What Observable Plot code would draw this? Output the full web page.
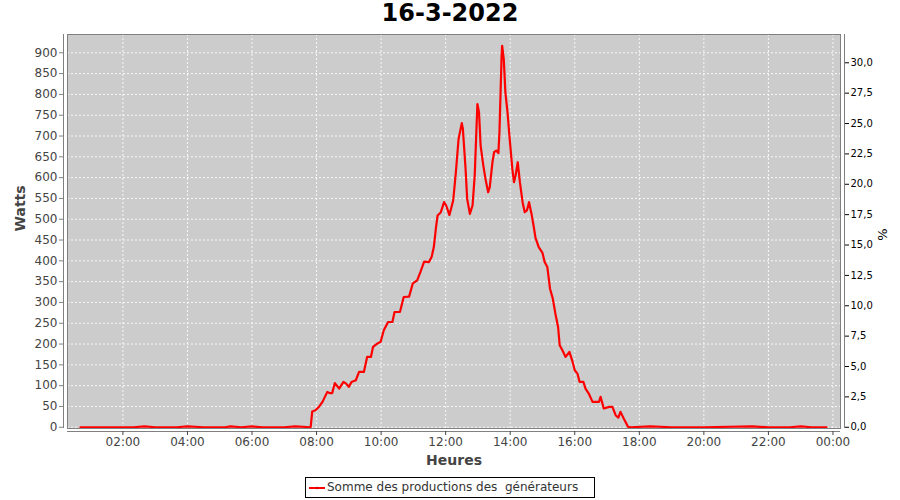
<!DOCTYPE html>
<html>
<head>
<meta charset="utf-8">
<script src="https://cdn.jsdelivr.net/npm/d3@7"></script>
<script src="https://cdn.jsdelivr.net/npm/@observablehq/plot@0.6"></script>
<style>
  body { margin: 0; background: #fff; font-family: "DejaVu Sans", sans-serif; }
  #wrap { position: relative; width: 900px; height: 500px; overflow: hidden; }
  #title { position: absolute; left: 0; top: 0; width: 900px; height: 28px; line-height: 27px; text-align: center; font-weight: bold; font-size: 24px; color: #000; }
  #chart { position: absolute; left: 0; top: 28px; }
  #legend { position: absolute; left: 305px; top: 477px; width: 288px; height: 19px; border: 1px solid #000; font-size: 12px; color: #333; white-space: pre; line-height: 19px; }
  #legend svg { position: absolute; left: 2px; top: 5px; }
  #legend span { position: absolute; left: 21px; top: 0; }
</style>
</head>
<body>
<div id="wrap">
  <div id="title"></div>
  <div id="chart"></div>
  <div id="legend"></div>
</div>
<script>
const day = "2022-03-16";
const titleText = "16-3-2022";
const seriesName = "Somme des productions des  générateurs";
const xLabel = "Heures";
const yLabel = "Watts";
const y2Label = "%";

const times = ["00:41","01:30","02:20","02:40","03:00","03:40","04:00","04:30","05:10","05:20","05:40","06:00","06:20","07:00","07:20","07:49",
"07:52","07:58","08:05","08:11","08:20","08:25","08:29","08:34","08:42","08:50","08:55","09:00","09:05","09:13","09:19","09:28","09:34","09:41","09:45","09:54","09:59",
"10:05","10:13","10:21","10:25","10:35","10:42","10:52","10:59","11:07","11:13","11:20","11:29","11:34","11:38","11:42","11:45","11:51","11:57",
"12:01","12:07","12:14","12:19","12:24","12:30","12:32","12:37","12:40","12:45","12:50","12:54","12:59","13:02","13:05","13:10","13:14","13:19","13:22","13:27","13:30","13:34","13:38","13:40","13:44","13:45","13:48","13:51","13:55","13:59",
"14:04","14:07","14:10","14:14","14:18","14:23","14:27","14:31","14:35","14:40","14:44","14:47","14:53","15:00","15:04","15:09","15:14","15:19","15:24","15:29","15:32","15:37","15:43","15:50","15:56",
"16:00","16:05","16:09","16:16","16:20","16:26","16:33","16:45","16:48","16:54","17:04","17:10","17:16","17:21","17:25","17:31","17:39","17:45","18:20","19:00","20:00","21:30","22:00","22:40","23:00","23:20","23:48"];
const watts = [0,0,0,2,0,0,2,0,0,2,0,2,0,0,2,0,
38,41,50,61,85,82,82,106,93,109,105,97,109,113,133,133,169,169,193,202,205,
233,253,253,277,277,313,314,346,353,373,398,397,410,433,480,509,517,541,
533,510,545,613,693,731,717,621,549,513,533,605,777,757,677,629,597,565,577,637,661,665,659,709,893,917,885,805,757,693,
621,589,605,637,589,541,517,521,541,510,480,455,433,419,397,385,333,310,273,241,197,185,169,181,157,
137,129,109,109,93,81,61,61,73,45,49,49,29,23,37,21,1,0,2,0,0,2,0,0,2,0,0];

const xDomainStart = "2022-03-16 00:17";
const xDomainEnd = "2022-03-17 00:14";
const xTickHours = [2,4,6,8,10,12,14,16,18,20,22,24];
const yDomain = [-3, 944];
const yTicks = [0,50,100,150,200,250,300,350,400,450,500,550,600,650,700,750,800,850,900];
const pctTicks = [0,2.5,5,7.5,10,12.5,15,17.5,20,22.5,25,27.5,30];
const wattsPerPct = 29.2;

const parse = d3.utcParse("%Y-%m-%d %H:%M");
const data = times.map((t, i) => ({t: parse(day + " " + t), w: watts[i]}));
const x0 = parse(xDomainStart), x1 = parse(xDomainEnd);
const dayStart = parse(day + " 00:00");
const xTicks = xTickHours.map(h => d3.utcHour.offset(dayStart, h));
const fmtTime = d3.utcFormat("%H:%M");
const fmtPct = d => (d / wattsPerPct).toFixed(1).replace(".", ",");

document.getElementById("title").textContent = titleText;

const chart = Plot.plot({
  width: 900,
  height: 444,
  marginTop: 6,
  marginLeft: 67,
  marginRight: 60,
  marginBottom: 44,
  style: {fontFamily: "DejaVu Sans", fontSize: "12px", background: "transparent", overflow: "visible"},
  x: {type: "utc", domain: [x0, x1], axis: null, label: null},
  y: {domain: yDomain, axis: null, label: null},
  marks: [
    Plot.frame({fill: "#cccccc"}),
    Plot.gridX(xTicks, {stroke: "#ffffff", strokeOpacity: 0.85, strokeDasharray: "2,2"}),
    Plot.gridY(yTicks, {stroke: "#ffffff", strokeOpacity: 0.85, strokeDasharray: "2,2"}),
    Plot.line(data, {x: "t", y: "w", stroke: "#ff0000", strokeWidth: 2.2}),
    Plot.frame({stroke: "#808080"}),
    Plot.ruleX([x0], {dx: -4, stroke: "#808080"}),
    Plot.ruleX([x1], {dx: 4, stroke: "#808080"}),
    Plot.ruleY([yDomain[0]], {dy: 3, stroke: "#808080"}),
    Plot.axisY(yTicks, {anchor: "left", label: null, dx: -4, tickSize: 4, tickPadding: 2, fontSize: 12, color: "#444", stroke: "#808080"}),
    Plot.axisY(pctTicks.map(p => p * wattsPerPct), {anchor: "right", label: null, dx: 4, tickSize: 4, tickPadding: 2, fontSize: 10, color: "#000", tickFormat: fmtPct}),
    Plot.axisX(xTicks, {anchor: "bottom", label: null, dy: 3, tickSize: 4, tickPadding: 2, fontSize: 12, color: "#444", tickFormat: fmtTime}),
    Plot.text([yLabel], {frameAnchor: "left", dx: -47, rotate: -90, fontSize: 14, fontWeight: "bold", fill: "#444"}),
    Plot.text([xLabel], {frameAnchor: "bottom", dy: 32, lineAnchor: "middle", fontSize: 14, fontWeight: "bold", fill: "#444"}),
    Plot.text([y2Label], {frameAnchor: "right", dx: 42, dy: -3, rotate: -90, fontSize: 13, fill: "#000"})
  ]
});
document.getElementById("chart").appendChild(chart);

const legend = document.getElementById("legend");
legend.innerHTML = '<svg width="18" height="10"><line x1="1" y1="5" x2="17" y2="5" stroke="#ff0000" stroke-width="2"/><circle cx="9" cy="5" r="1.2" fill="#cc0000"/></svg><span></span>';
legend.querySelector("span").textContent = seriesName;
</script>
</body>
</html>
